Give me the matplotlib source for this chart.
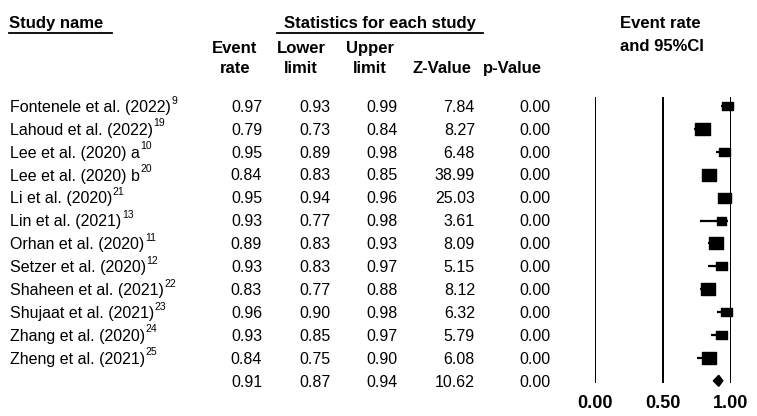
import matplotlib
matplotlib.use("Agg")
import matplotlib.pyplot as plt
from matplotlib.path import Path
from matplotlib.transforms import blended_transform_factory, offset_copy

plt.rcParams['font.family'] = ['Liberation Sans', 'DejaVu Sans']

# ---------------- data ----------------
studies = ["Fontenele et al. (2022)", "Lahoud et al. (2022)", "Lee et al. (2020) a",
           "Lee et al. (2020) b", "Li et al. (2020)", "Lin et al. (2021)",
           "Orhan et al. (2020)", "Setzer et al. (2020)", "Shaheen et al. (2021)",
           "Shujaat et al. (2021)", "Zhang et al. (2020)", "Zheng et al. (2021)"]
refs = ["9", "19", "10", "20", "21", "13", "11", "12", "22", "23", "24", "25"]
event_rate = [0.97, 0.79, 0.95, 0.84, 0.95, 0.93, 0.89, 0.93, 0.83, 0.96, 0.93, 0.84]
lower_limit = [0.93, 0.73, 0.89, 0.83, 0.94, 0.77, 0.83, 0.83, 0.77, 0.90, 0.85, 0.75]
upper_limit = [0.99, 0.84, 0.98, 0.85, 0.96, 0.98, 0.93, 0.97, 0.88, 0.98, 0.97, 0.90]
z_value = [7.84, 8.27, 6.48, 38.99, 25.03, 3.61, 8.09, 5.15, 8.12, 6.32, 5.79, 6.08]
p_value = [0.00] * 12
summary = {"event": 0.91, "lower": 0.87, "upper": 0.94, "z": 10.62, "p": 0.00}
x_ticks = [0.0, 0.5, 1.0]

# box sizes (px width) - style only
box_px = [11, 15, 11, 14, 13, 9, 14, 11, 14, 11, 11, 14]

# ---------------- figure ----------------
W, H = 757, 416
dpi = 100
fig = plt.figure(figsize=(W / dpi, H / dpi), dpi=dpi)

def fx(px):
    return px / W

def fy(py):
    return 1 - py / H

row0_px, step_px = 106.0, 22.9
top_px, bot_px = 97.0, 383.0
ax_left, ax_right = 595.0, 731.0
ax = fig.add_axes([fx(ax_left), fy(bot_px), (ax_right - ax_left) / W, (bot_px - top_px) / H])
ax.set_xlim(0, 1)
ax.set_ylim((bot_px - row0_px) / step_px, (top_px - row0_px) / step_px)
for s in ax.spines.values():
    s.set_visible(False)
ax.set_yticks([])
ax.set_xticks(x_ticks)
ax.set_xticklabels([f"{t:.2f}" for t in x_ticks], fontsize=13, fontweight='bold')
ax.tick_params(axis='x', length=0, pad=9)
for t in x_ticks:
    ln = ax.axvline(t, color='black', lw=1.44, zorder=1)
    ln.set_snap(True)

# rectangle marker (wider than tall)
rect = Path([(-0.625, -0.5), (0.625, -0.5), (0.625, 0.5), (-0.625, 0.5), (-0.625, -0.5)],
            [Path.MOVETO, Path.LINETO, Path.LINETO, Path.LINETO, Path.CLOSEPOLY])

for i, (e, lo, hi) in enumerate(zip(event_rate, lower_limit, upper_limit)):
    ax.plot([lo, hi], [i, i], color='black', lw=1.6, clip_on=False, zorder=2,
            solid_capstyle='butt')
    ax.plot([e], [i], marker=rect, markersize=box_px[i] * 0.72, color='black',
            clip_on=False, zorder=3, linestyle='none')

ns = len(studies)
h = 5.5 / step_px
ax.fill([summary["lower"], summary["event"], summary["upper"], summary["event"]],
        [ns, ns - h, ns, ns + h], color='black', clip_on=False, zorder=3)

# ---------------- table text ----------------
tr = blended_transform_factory(fig.transFigure, ax.transData)
tr_base = offset_copy(tr, fig=fig, x=0, y=-5.8, units='dots')
tr_sup = offset_copy(tr, fig=fig, x=0, y=2.5, units='dots')
fs = 11.5
col_right = [262, 331, 398, 475, 550]

renderer = fig.canvas.get_renderer()
for i, name in enumerate(studies):
    t = fig.text(fx(10), i, name, transform=tr_base, fontsize=fs, ha='left', va='baseline')
    bb = t.get_window_extent(renderer=renderer)
    fig.text(bb.x1 / W + 0.5 / W, i, refs[i], transform=tr_sup,
             fontsize=7.5, ha='left', va='baseline')
    vals = [event_rate[i], lower_limit[i], upper_limit[i], z_value[i], p_value[i]]
    for xr, v in zip(col_right, vals):
        fig.text(fx(xr), i, f"{v:.2f}", transform=tr_base, fontsize=fs, ha='right',
                 va='baseline')

svals = [summary["event"], summary["lower"], summary["upper"], summary["z"], summary["p"]]
for xr, v in zip(col_right, svals):
    fig.text(fx(xr), ns, f"{v:.2f}", transform=tr_base, fontsize=fs, ha='right',
             va='baseline')

# ---------------- headers ----------------
hfs = 12
fig.text(fx(9), fy(28), "Study name", fontsize=hfs, fontweight='bold', ha='left', va='baseline')
fig.add_artist(plt.Line2D([fx(9), fx(112)], [fy(32.5), fy(32.5)], color='black', lw=1.3))
fig.text(fx(380), fy(28), "Statistics for each study", fontsize=hfs, fontweight='bold',
         ha='center', va='baseline')
fig.add_artist(plt.Line2D([fx(277), fx(483)], [fy(32.5), fy(32.5)], color='black', lw=1.3))
fig.text(fx(620), fy(28), "Event rate", fontsize=hfs, fontweight='bold', ha='left', va='baseline')
fig.text(fx(620), fy(51), "and 95%CI", fontsize=hfs, fontweight='bold', ha='left', va='baseline')

col_heads = [("Event", "rate", 235), ("Lower", "limit", 301), ("Upper", "limit", 370),
             (None, "Z-Value", 442), (None, "p-Value", 512)]
for top, bot, xc in col_heads:
    if top:
        fig.text(fx(xc), fy(53), top, fontsize=hfs, fontweight='bold', ha='center',
                 va='baseline')
    fig.text(fx(xc), fy(73), bot, fontsize=hfs, fontweight='bold', ha='center', va='baseline')

fig.savefig("out.png", dpi=dpi, facecolor='white')
